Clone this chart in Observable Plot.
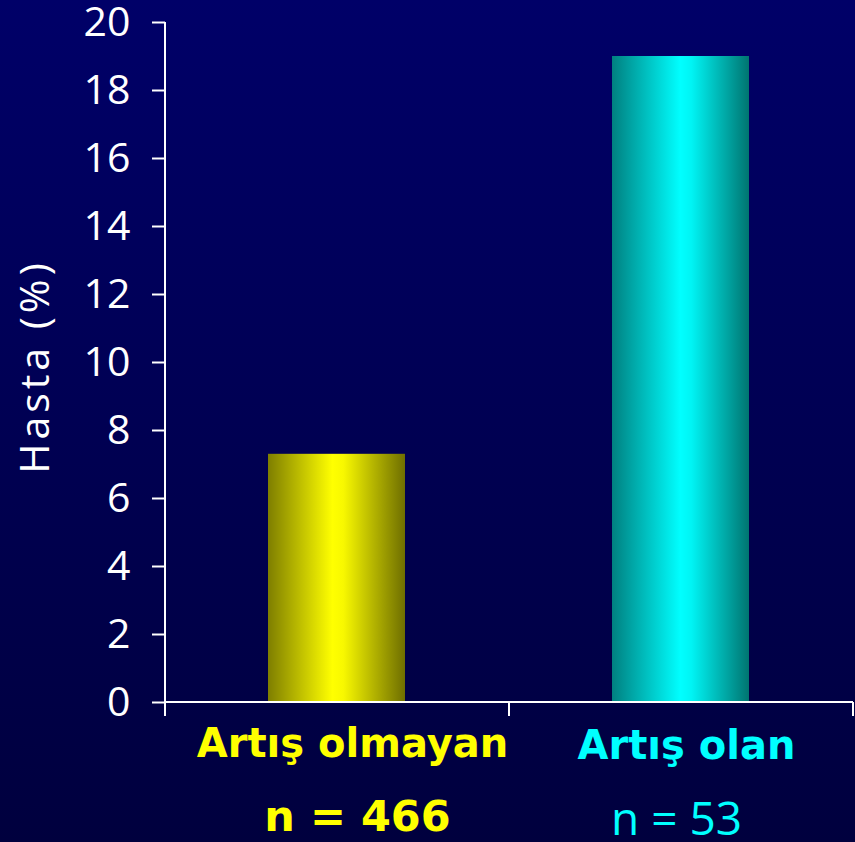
<!DOCTYPE html>
<html>
<head>
<meta charset="utf-8">
<script src="https://cdn.jsdelivr.net/npm/d3@7"></script>
<script src="https://cdn.jsdelivr.net/npm/@observablehq/plot@0.6"></script>
<style>
  html, body { margin: 0; padding: 0; background: #000050; }
  #chart svg { display: block; }
</style>
</head>
<body>
<div id="chart"></div>
<script>
const categories = ["Artış olmayan", "Artış olan"];
const values = [7.3, 19];
const nLabels = ["n = 466", "n = 53"];
const yTicks = [0, 2, 4, 6, 8, 10, 12, 14, 16, 18, 20];
const yLabel = "Hasta (%)";

const data = categories.map((c, i) => ({category: c, value: values[i], n: nLabels[i]}));

const gradId = c => c === categories[0] ? "url(#gradYellow)" : "url(#gradCyan)";
const textColor = c => c === categories[0] ? "#ffff00" : "#00ffff";

function defsMark() {
  const svgNS = "http://www.w3.org/2000/svg";
  const g = document.createElementNS(svgNS, "g");
  g.innerHTML = `
    <defs>
      <linearGradient id="gradYellow" x1="0" x2="1" y1="0" y2="0">
        <stop offset="0" stop-color="#7e7e00"/>
        <stop offset="0.47" stop-color="#ffff00"/>
        <stop offset="0.55" stop-color="#f8f800"/>
        <stop offset="1" stop-color="#6e6e00"/>
      </linearGradient>
      <linearGradient id="gradCyan" x1="0" x2="1" y1="0" y2="0">
        <stop offset="0" stop-color="#008080"/>
        <stop offset="0.5" stop-color="#00ffff"/>
        <stop offset="0.58" stop-color="#00f4f4"/>
        <stop offset="1" stop-color="#007470"/>
      </linearGradient>
    </defs>`;
  return g;
}

function axisLines(index, scales, values, dims) {
  const svgNS = "http://www.w3.org/2000/svg";
  const g = d3.select(document.createElementNS(svgNS, "g"))
    .attr("stroke", "white").attr("stroke-width", 2).attr("fill", "none");
  const x0 = dims.marginLeft, x1 = dims.width - dims.marginRight;
  const yb = scales.y(0), yt = scales.y(d3.max(yTicks));
  g.append("line").attr("x1", x0).attr("x2", x0).attr("y1", yt).attr("y2", yb);
  g.append("line").attr("x1", x0).attr("x2", x1).attr("y1", yb).attr("y2", yb);
  const step = (x1 - x0) / categories.length;
  for (let i = 0; i <= categories.length; i++) {
    const xx = x0 + i * step;
    g.append("line").attr("x1", xx).attr("x2", xx).attr("y1", yb).attr("y2", yb + 14);
  }
  return g.node();
}

const first = data.filter(d => d.category === categories[0]);
const second = data.filter(d => d.category === categories[1]);

const chart = Plot.plot({
  width: 855,
  height: 842,
  marginLeft: 165,
  marginRight: 2,
  marginTop: 22,
  marginBottom: 140,
  style: {
    background: "linear-gradient(to bottom, #000068, #00003e)",
    color: "white",
    fontFamily: "'Open Sans', sans-serif",
    overflow: "visible"
  },
  x: {domain: categories, padding: 0, axis: null},
  y: {domain: [0, 20], axis: null},
  marks: [
    defsMark,
    Plot.barY(data, {
      x: "category",
      y: "value",
      fill: d => gradId(d.category),
      insetLeft: 103,
      insetRight: 104
    }),
    Plot.axisY({
      ticks: yTicks,
      tickSize: 13,
      tickPadding: 22,
      fontSize: 41,
      stroke: "white",
      strokeWidth: 2,
      fill: "white",
      label: null
    }),
    axisLines,
    Plot.text([yLabel], {
      text: d => d,
      frameAnchor: "left",
      textAnchor: "middle",
      lineAnchor: "middle",
      rotate: -90,
      dx: -130,
      dy: 4,
      fontSize: 41,
      fill: "white"
    }),
    Plot.text(first, {
      x: "category",
      text: "category",
      frameAnchor: "bottom",
      lineAnchor: "middle",
      dy: 42,
      dx: 15,
      fill: d => textColor(d.category),
      fontSize: 40,
      fontWeight: "bold",
      fontFamily: "'DejaVu Sans', sans-serif"
    }),
    Plot.text(second, {
      x: "category",
      text: "category",
      frameAnchor: "bottom",
      lineAnchor: "middle",
      dy: 44,
      dx: 5,
      fill: d => textColor(d.category),
      fontSize: 40,
      fontWeight: "bold",
      fontFamily: "'DejaVu Sans', sans-serif"
    }),
    Plot.text(first, {
      x: "category",
      text: "n",
      frameAnchor: "bottom",
      lineAnchor: "middle",
      dy: 115,
      dx: 20,
      fill: d => textColor(d.category),
      fontSize: 43,
      fontWeight: "bold",
      fontFamily: "'DejaVu Sans', sans-serif"
    }),
    Plot.text(second, {
      x: "category",
      text: "n",
      frameAnchor: "bottom",
      lineAnchor: "middle",
      dy: 118,
      dx: -5,
      fill: d => textColor(d.category),
      fontSize: 46,
      fontFamily: "'Open Sans', sans-serif"
    })
  ]
});

d3.select(chart).selectAll("text")
  .filter(function() { return this.textContent === yLabel; })
  .style("letter-spacing", "4px");

document.getElementById("chart").appendChild(chart);
</script>
</body>
</html>
